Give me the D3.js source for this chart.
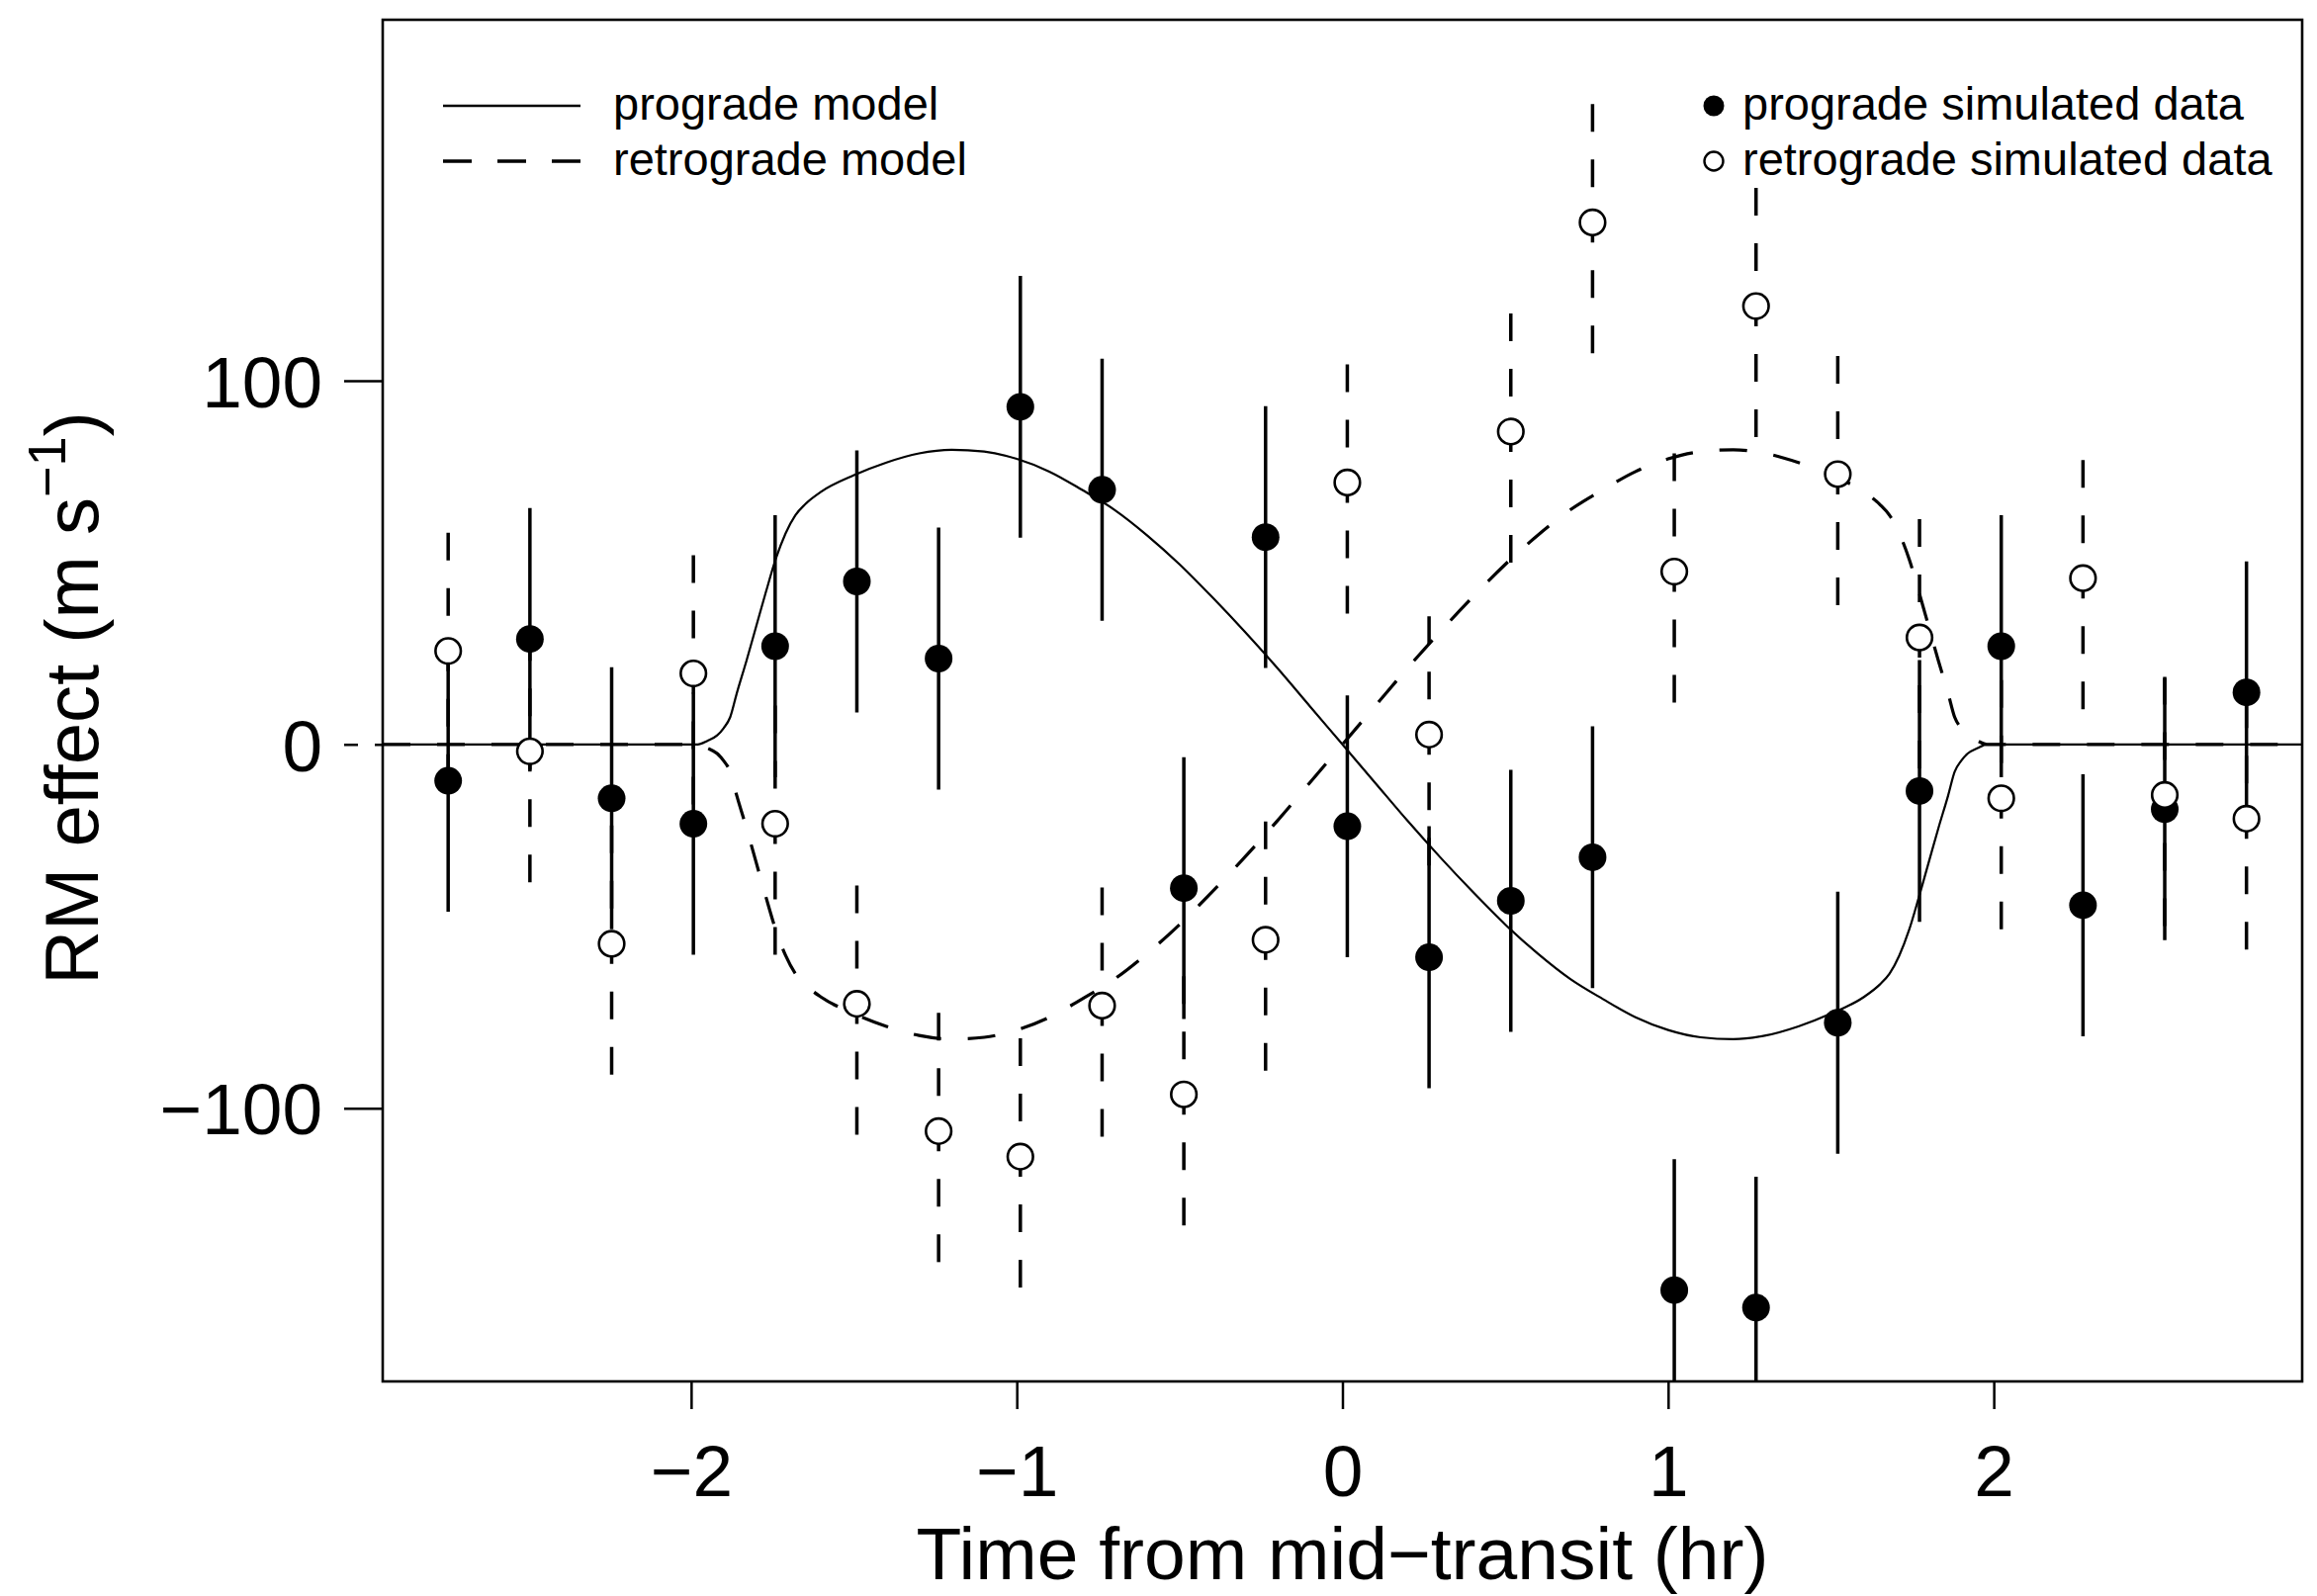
<!DOCTYPE html>
<html>
<head>
<meta charset="utf-8">
<script src="https://cdn.jsdelivr.net/npm/d3@7"></script>
<style>
  body { margin: 0; background: #fff; }
  svg { display: block; font-family: "Liberation Sans", Arial, Helvetica, sans-serif; }
</style>
</head>
<body>
<div id="chart"></div>
<script>
const w = 2343;
const h = 1614;
const box = { left: 387, right: 2328, top: 20, bottom: 1397 };

// simulated observations (hr from mid-transit, m/s)
const times = [-2.746, -2.495, -2.244, -1.993, -1.742, -1.491, -1.240, -0.989, -0.738, -0.487, -0.236, 0.015,
  0.266, 0.517, 0.768, 1.019, 1.270, 1.521, 1.772, 2.023, 2.274, 2.525, 2.776];
const progradeData = [-10, 29, -14.8, -21.8, 27, 44.8, 23.6, 92.8, 70, -39.5, 57, -22.5,
  -58.5, -43, -31, -150, -154.8, -76.5, -12.8, 27, -44.2, -17.8, 14.3];
const retrogradeData = [25.7, -1.9, -54.8, 19.5, -21.8, -71.3, -106.3, -113.3, -71.8, -96.2, -53.7, 72,
  2.7, 86, 143.5, 47.5, 120.5, 74.3, 29.4, -14.8, 45.7, -13.9, -20.4];
const errBar = 36;

// model curves
const modelTimes = [-2.947, -1.98, -1.95, -1.92, -1.90, -1.88, -1.86, -1.83, -1.80, -1.77, -1.74, -1.71, -1.68, -1.65,
  -1.60, -1.50, -1.40, -1.30, -1.20, -1.10, -1.00, -0.90, -0.80, -0.70, -0.60, -0.50, -0.40, -0.30, -0.20, -0.10,
  0, 0.10, 0.20, 0.30, 0.40, 0.50, 0.60, 0.70, 0.80, 0.90, 1.00, 1.10, 1.20, 1.30, 1.40, 1.50, 1.60,
  1.65, 1.68, 1.71, 1.74, 1.77, 1.80, 1.83, 1.86, 1.88, 1.90, 1.92, 1.95, 1.98, 2.947];
const progradeModel = [0, 0, 1, 2.5, 4.5, 7.5, 14, 23, 32.5, 42, 51, 58, 63, 66,
  69.5, 74, 77.5, 80, 81, 80.5, 78.5, 75, 70, 64.5, 57.5, 49.5, 40.5, 31, 21, 10.5,
  0, -10.5, -21, -31, -40.5, -49.5, -57.5, -64.5, -70, -75, -78.5, -80.5, -81, -80, -77.5, -74, -69.5,
  -66, -63, -58, -51, -42, -32.5, -23, -14, -7.5, -4.5, -2.5, -1, 0, 0];
const retrogradeModel = [0, 0, -1, -2.5, -4.5, -7.5, -14, -23, -32.5, -42, -51, -58, -63, -66,
  -69.5, -74, -77.5, -80, -81, -80.5, -78.5, -75, -70, -64.5, -57.5, -49.5, -40.5, -31, -21, -10.5,
  0, 10.5, 21, 31, 40.5, 49.5, 57.5, 64.5, 70, 75, 78.5, 80.5, 81, 80, 77.5, 74, 69.5,
  66, 63, 58, 51, 42, 32.5, 23, 14, 7.5, 4.5, 2.5, 1, 0, 0];

const xTicks = [-2, -1, 0, 1, 2];
const yTicks = [-100, 0, 100];
const legendLines = ["prograde model", "retrograde model"];
const legendPoints = ["prograde simulated data", "retrograde simulated data"];

const xScale = d3.scaleLinear().domain([-2.947, 2.947]).range([box.left, box.right]);
const yScale = d3.scaleLinear().domain([-175.1, 199.2]).range([box.bottom, box.top]);

const svg = d3.select("#chart").append("svg")
  .attr("width", w)
  .attr("height", h);

svg.append("rect").attr("width", w).attr("height", h).attr("fill", "#fff");

svg.append("clipPath").attr("id", "plotClip")
  .append("rect")
  .attr("x", box.left).attr("y", box.top)
  .attr("width", box.right - box.left).attr("height", box.bottom - box.top);

const plot = svg.append("g").attr("clip-path", "url(#plotClip)");

// model lines
const modelLine = d3.line()
  .x((d, i) => xScale(modelTimes[i]))
  .y(d => yScale(d))
  .curve(d3.curveMonotoneX);

plot.append("path")
  .attr("d", modelLine(progradeModel))
  .attr("fill", "none")
  .attr("stroke", "#000")
  .attr("stroke-width", 2.2);

plot.append("path")
  .attr("d", modelLine(retrogradeModel))
  .attr("fill", "none")
  .attr("stroke", "#000")
  .attr("stroke-width", 3.2)
  .attr("stroke-dasharray", "28 27");

// error bars, drawn bottom to top
plot.selectAll(".bar-pro").data(progradeData).enter().append("line")
  .attr("class", "bar-pro")
  .attr("x1", (d, i) => xScale(times[i]))
  .attr("x2", (d, i) => xScale(times[i]))
  .attr("y1", d => yScale(d - errBar))
  .attr("y2", d => yScale(d + errBar))
  .attr("stroke", "#000")
  .attr("stroke-width", 3.5);

plot.selectAll(".bar-retro").data(retrogradeData).enter().append("line")
  .attr("class", "bar-retro")
  .attr("x1", (d, i) => xScale(times[i]))
  .attr("x2", (d, i) => xScale(times[i]))
  .attr("y1", d => yScale(d - errBar))
  .attr("y2", d => yScale(d + errBar))
  .attr("stroke", "#000")
  .attr("stroke-width", 3.5)
  .attr("stroke-dasharray", "28 28");

plot.selectAll(".pt-pro").data(progradeData).enter().append("circle")
  .attr("class", "pt-pro")
  .attr("cx", (d, i) => xScale(times[i]))
  .attr("cy", d => yScale(d))
  .attr("r", 14)
  .attr("fill", "#000");

plot.selectAll(".pt-retro").data(retrogradeData).enter().append("circle")
  .attr("class", "pt-retro")
  .attr("cx", (d, i) => xScale(times[i]))
  .attr("cy", d => yScale(d))
  .attr("r", 12.8)
  .attr("fill", "#fff")
  .attr("stroke", "#000")
  .attr("stroke-width", 2.6);

// axes
const xAxis = d3.axisBottom(xScale).tickValues(xTicks).tickSize(28).tickSizeOuter(0).tickFormat(d3.format("d"));
const yAxis = d3.axisLeft(yScale).tickValues(yTicks).tickSize(39).tickSizeOuter(0).tickFormat(d3.format("d"));

const gx = svg.append("g")
  .attr("transform", "translate(0," + box.bottom + ")")
  .call(xAxis);
gx.select(".domain").remove();
gx.selectAll("line").attr("stroke-width", 2.5);
gx.selectAll("text")
  .attr("y", 116).attr("dy", null)
  .attr("font-size", 73)
  .attr("font-family", "Liberation Sans, Arial, sans-serif")
  .attr("fill", "#000");

const gy = svg.append("g")
  .attr("transform", "translate(" + box.left + ",0)")
  .call(yAxis);
gy.select(".domain").remove();
gy.selectAll("line").attr("stroke-width", 2.5);
gy.selectAll(".tick").filter(d => d === 0).select("line")
  .attr("stroke-dasharray", "14 17")
  .attr("stroke-dashoffset", 6);
gy.selectAll("text")
  .attr("x", -61).attr("dy", "0.36em")
  .attr("font-size", 73)
  .attr("font-family", "Liberation Sans, Arial, sans-serif")
  .attr("fill", "#000");

svg.append("rect")
  .attr("x", box.left).attr("y", box.top)
  .attr("width", box.right - box.left).attr("height", box.bottom - box.top)
  .attr("fill", "none")
  .attr("stroke", "#000")
  .attr("stroke-width", 2.6);

// axis titles
svg.append("text")
  .attr("x", (box.left + box.right) / 2)
  .attr("y", 1597)
  .attr("text-anchor", "middle")
  .attr("font-size", 75)
  .text("Time from mid\u2212transit (hr)");

const yTitle = svg.append("text")
  .attr("transform", "translate(99,706) rotate(-90)")
  .attr("text-anchor", "middle")
  .attr("font-size", 76);
yTitle.append("tspan").text("RM effect (m s");
yTitle.append("tspan").attr("font-size", 54).attr("dy", -33).text("\u22121");
yTitle.append("tspan").attr("dy", 33).text(")");

// legends
const legL = svg.append("g");
legendLines.forEach((label, i) => {
  const ly = 107 + i * 56;
  legL.append("line")
    .attr("x1", 448).attr("x2", 587)
    .attr("y1", ly).attr("y2", ly)
    .attr("stroke", "#000")
    .attr("stroke-width", i === 0 ? 2.4 : 3.4)
    .attr("stroke-dasharray", i === 0 ? null : "29 26");
  legL.append("text")
    .attr("x", 620).attr("y", ly + 14)
    .attr("font-size", 47)
    .text(label);
});

const legR = svg.append("g");
legendPoints.forEach((label, i) => {
  const ly = 107 + i * 56;
  legR.append("circle")
    .attr("cx", 1733).attr("cy", ly)
    .attr("r", i === 0 ? 10.5 : 9.5)
    .attr("fill", i === 0 ? "#000" : "#fff")
    .attr("stroke", "#000")
    .attr("stroke-width", i === 0 ? 0 : 2.4);
  legR.append("text")
    .attr("x", 1762).attr("y", ly + 14)
    .attr("font-size", 47)
    .text(label);
});
</script>
</body>
</html>
